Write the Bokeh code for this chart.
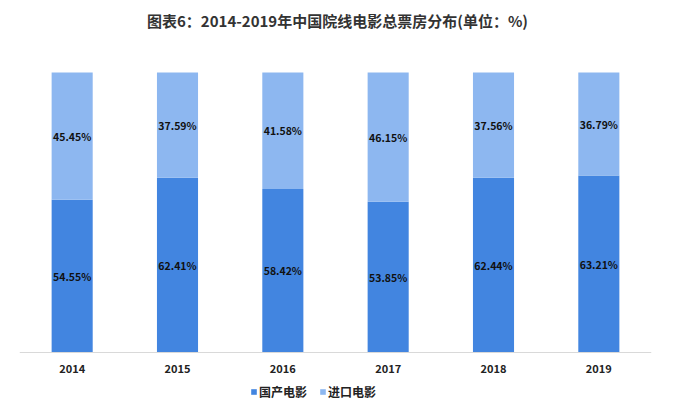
from bokeh.plotting import figure
from bokeh.models import ColumnDataSource, Legend, LegendItem, FactorRange, Range1d, Label, Span
from bokeh.core.properties import value
from bokeh.embed import file_html
from bokeh.resources import INLINE

years = ["2014", "2015", "2016", "2017", "2018", "2019"]
domestic = [54.55, 62.41, 58.42, 53.85, 62.44, 63.21]
imported = [45.45, 37.59, 41.58, 46.15, 37.56, 36.79]
series_names = ["国产电影", "进口电影"]
title_text = "图表6：2014-2019年中国院线电影总票房分布(单位：%)"

dark = "#4285E0"
light = "#8DB7F0"
font = "Noto Sans CJK SC"

# frame spans the full canvas height; 100% occupies 280 px (72..352)
px_per_unit = 2.8
y_start = -63 / px_per_unit
y_end = 100 + 72 / px_per_unit
year_label_y = -16 / px_per_unit

src = ColumnDataSource(dict(
    year=years,
    dom=domestic,
    imp=imported,
    dom_mid=[d / 2 for d in domestic],
    imp_mid=[d + i / 2 for d, i in zip(domestic, imported)],
    dom_lbl=["%.2f%%" % d for d in domestic],
    imp_lbl=["%.2f%%" % i for i in imported],
    lab_y=[year_label_y] * len(years),
))

p = figure(x_range=FactorRange(*years), y_range=Range1d(y_start, y_end),
           width=674, height=415, output_backend="svg", toolbar_location=None,
           min_border_left=19, min_border_right=23, min_border_top=0,
           min_border_bottom=0)
p.x_range.range_padding = 0.0
p.x_range.group_padding = 0

r = p.vbar_stack(["dom", "imp"], x="year", width=0.39, color=[dark, light],
                 line_color=None, source=src)

p.text(x="year", y="dom_mid", text="dom_lbl", source=src, text_align="center",
       text_baseline="middle", text_font=value(font), text_font_style="bold",
       text_font_size="10.5px", text_color="#111111")
p.text(x="year", y="imp_mid", text="imp_lbl", source=src, text_align="center",
       text_baseline="middle", text_font=value(font), text_font_style="bold",
       text_font_size="10.5px", text_color="#111111")

# category labels and base line
p.text(x="year", y="lab_y", text="year", source=src, text_align="center",
       text_baseline="middle", text_font=value(font), text_font_style="bold",
       text_font_size="11px", text_color="#222222")
p.add_layout(Span(location=0, dimension="width", line_color="#D9D9D9", line_width=1))

title = Label(x=318, y=395, x_units="screen", y_units="screen", text=title_text,
              text_align="center", text_baseline="middle", text_font=font,
              text_font_size="15px", text_font_style="bold", text_color="#333333")
p.add_layout(title)

p.outline_line_color = None
p.xgrid.grid_line_color = None
p.ygrid.grid_line_color = None
p.xaxis.visible = False
p.yaxis.visible = False

legend = Legend(items=[LegendItem(label=series_names[0], renderers=[r[0]]),
                       LegendItem(label=series_names[1], renderers=[r[1]])],
                orientation="horizontal", location=(231, 15))
legend.label_text_font = font
legend.label_text_font_style = "bold"
legend.label_text_font_size = "12px"
legend.label_text_color = "#222222"
legend.label_height = 14
legend.glyph_width = 7
legend.glyph_height = 7
legend.label_standoff = 2
legend.spacing = 12
legend.padding = 0
legend.margin = 0
legend.border_line_color = None
legend.background_fill_alpha = 0
p.add_layout(legend, "center")

open("out.html", "w").write(file_html(p, INLINE))
